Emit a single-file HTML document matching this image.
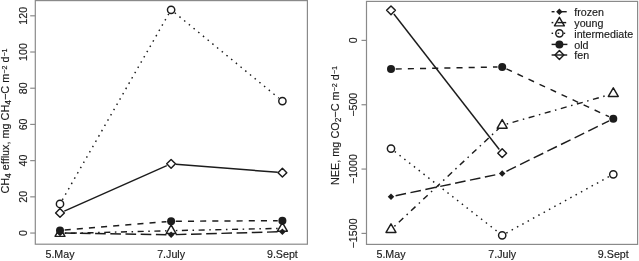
<!DOCTYPE html>
<html><head><meta charset="utf-8"><style>
html,body{margin:0;padding:0;background:#fff;}
body{width:639px;height:261px;overflow:hidden;}
svg{display:block;will-change:transform;}
text{font-family:"Liberation Sans",sans-serif;font-size:10.7px;fill:#1a1a1a;stroke:#1a1a1a;stroke-width:0.15px;}
</style></head><body>
<svg width="639" height="261" viewBox="0 0 639 261">
<rect width="639" height="261" fill="#fff"/>
<rect x="35.3" y="0.6" width="272.1" height="243.6" fill="none" stroke="#8a8a8a" stroke-width="1.2"/>
<rect x="366.5" y="1.4" width="271.1" height="243.0" fill="none" stroke="#8a8a8a" stroke-width="1.2"/>
<path d="M30.2 233.05H35.3" stroke="#8a8a8a" stroke-width="1.2"/>
<path d="M30.2 196.84H35.3" stroke="#8a8a8a" stroke-width="1.2"/>
<path d="M30.2 160.63H35.3" stroke="#8a8a8a" stroke-width="1.2"/>
<path d="M30.2 124.43H35.3" stroke="#8a8a8a" stroke-width="1.2"/>
<path d="M30.2 88.22H35.3" stroke="#8a8a8a" stroke-width="1.2"/>
<path d="M30.2 52.01H35.3" stroke="#8a8a8a" stroke-width="1.2"/>
<path d="M30.2 15.80H35.3" stroke="#8a8a8a" stroke-width="1.2"/>
<path d="M361.5 40.40H366.4" stroke="#8a8a8a" stroke-width="1.2"/>
<path d="M361.5 104.74H366.4" stroke="#8a8a8a" stroke-width="1.2"/>
<path d="M361.5 169.07H366.4" stroke="#8a8a8a" stroke-width="1.2"/>
<path d="M361.5 233.41H366.4" stroke="#8a8a8a" stroke-width="1.2"/>
<path d="M64.70 233.07L166.40 234.68" fill="none" stroke="#1c1c1c" stroke-width="1.45" stroke-dasharray="10.64 4.56"/>
<path d="M175.80 234.62L277.70 231.83" fill="none" stroke="#1c1c1c" stroke-width="1.45" stroke-dasharray="10.64 4.56"/>
<path d="M56.75 233.00L60.00 229.75L63.25 233.00L60.00 236.25Z" fill="#1c1c1c"/>
<path d="M167.85 234.75L171.10 231.50L174.35 234.75L171.10 238.00Z" fill="#1c1c1c"/>
<path d="M279.15 231.70L282.40 228.45L285.65 231.70L282.40 234.95Z" fill="#1c1c1c"/>
<path d="M64.70 233.38L166.40 230.82" fill="none" stroke="#1c1c1c" stroke-width="1.45" stroke-dasharray="1.52 4.56 6.08 4.56"/>
<path d="M175.80 230.60L277.70 228.40" fill="none" stroke="#1c1c1c" stroke-width="1.45" stroke-dasharray="1.52 4.56 6.08 4.56"/>
<path d="M60.00 227.77L64.96 236.37L55.04 236.37Z" fill="none" stroke="#1c1c1c" stroke-width="1.45" stroke-linejoin="round"/>
<path d="M171.10 224.97L176.06 233.56L166.14 233.56Z" fill="none" stroke="#1c1c1c" stroke-width="1.45" stroke-linejoin="round"/>
<path d="M282.40 222.57L287.36 231.17L277.44 231.17Z" fill="none" stroke="#1c1c1c" stroke-width="1.45" stroke-linejoin="round"/>
<path d="M62.33 199.87L168.77 13.88" fill="none" stroke="#1c1c1c" stroke-width="1.45" stroke-dasharray="1.52 4.56"/>
<path d="M174.73 12.78L278.77 98.12" fill="none" stroke="#1c1c1c" stroke-width="1.45" stroke-dasharray="1.52 4.56"/>
<circle cx="60.00" cy="203.95" r="3.65" fill="none" stroke="#1c1c1c" stroke-width="1.45" stroke-linejoin="round"/>
<circle cx="171.10" cy="9.80" r="3.65" fill="none" stroke="#1c1c1c" stroke-width="1.45" stroke-linejoin="round"/>
<circle cx="282.40" cy="101.10" r="3.65" fill="none" stroke="#1c1c1c" stroke-width="1.45" stroke-linejoin="round"/>
<path d="M64.68 230.02L166.42 221.68" fill="none" stroke="#1c1c1c" stroke-width="1.45" stroke-dasharray="6.08 6.08"/>
<path d="M175.80 221.27L277.70 220.68" fill="none" stroke="#1c1c1c" stroke-width="1.45" stroke-dasharray="6.08 6.08"/>
<circle cx="60.00" cy="230.40" r="4.0" fill="#1c1c1c"/>
<circle cx="171.10" cy="221.30" r="4.0" fill="#1c1c1c"/>
<circle cx="282.40" cy="220.65" r="4.0" fill="#1c1c1c"/>
<path d="M64.30 211.05L166.80 165.70" fill="none" stroke="#1c1c1c" stroke-width="1.45"/>
<path d="M175.79 164.17L277.71 172.33" fill="none" stroke="#1c1c1c" stroke-width="1.45"/>
<path d="M55.60 212.95L60.00 208.55L64.40 212.95L60.00 217.35Z" fill="none" stroke="#1c1c1c" stroke-width="1.45" stroke-linejoin="round"/>
<path d="M166.70 163.80L171.10 159.40L175.50 163.80L171.10 168.20Z" fill="none" stroke="#1c1c1c" stroke-width="1.45" stroke-linejoin="round"/>
<path d="M278.00 172.70L282.40 168.30L286.80 172.70L282.40 177.10Z" fill="none" stroke="#1c1c1c" stroke-width="1.45" stroke-linejoin="round"/>
<path d="M395.60 195.74L497.60 174.36" fill="none" stroke="#1c1c1c" stroke-width="1.45" stroke-dasharray="10.64 4.56"/>
<path d="M506.42 171.33L609.08 120.87" fill="none" stroke="#1c1c1c" stroke-width="1.45" stroke-dasharray="10.64 4.56"/>
<path d="M387.75 196.70L391.00 193.45L394.25 196.70L391.00 199.95Z" fill="#1c1c1c"/>
<path d="M498.95 173.40L502.20 170.15L505.45 173.40L502.20 176.65Z" fill="#1c1c1c"/>
<path d="M610.05 118.80L613.30 115.55L616.55 118.80L613.30 122.05Z" fill="#1c1c1c"/>
<path d="M394.43 226.38L498.77 128.52" fill="none" stroke="#1c1c1c" stroke-width="1.45" stroke-dasharray="1.52 4.56 6.08 4.56"/>
<path d="M506.72 124.01L608.78 94.89" fill="none" stroke="#1c1c1c" stroke-width="1.45" stroke-dasharray="1.52 4.56 6.08 4.56"/>
<path d="M391.00 223.87L395.96 232.47L386.04 232.47Z" fill="none" stroke="#1c1c1c" stroke-width="1.45" stroke-linejoin="round"/>
<path d="M502.20 119.57L507.16 128.16L497.24 128.16Z" fill="none" stroke="#1c1c1c" stroke-width="1.45" stroke-linejoin="round"/>
<path d="M613.30 87.87L618.26 96.46L608.34 96.46Z" fill="none" stroke="#1c1c1c" stroke-width="1.45" stroke-linejoin="round"/>
<path d="M394.71 151.49L498.49 232.41" fill="none" stroke="#1c1c1c" stroke-width="1.45" stroke-dasharray="1.52 4.56"/>
<path d="M506.32 233.04L609.18 176.56" fill="none" stroke="#1c1c1c" stroke-width="1.45" stroke-dasharray="1.52 4.56"/>
<circle cx="391.00" cy="148.60" r="3.65" fill="none" stroke="#1c1c1c" stroke-width="1.45" stroke-linejoin="round"/>
<circle cx="502.20" cy="235.30" r="3.65" fill="none" stroke="#1c1c1c" stroke-width="1.45" stroke-linejoin="round"/>
<circle cx="613.30" cy="174.30" r="3.65" fill="none" stroke="#1c1c1c" stroke-width="1.45" stroke-linejoin="round"/>
<path d="M395.70 69.01L497.50 66.99" fill="none" stroke="#1c1c1c" stroke-width="1.45" stroke-dasharray="6.08 6.08"/>
<path d="M506.46 68.89L609.04 116.71" fill="none" stroke="#1c1c1c" stroke-width="1.45" stroke-dasharray="6.08 6.08"/>
<circle cx="391.00" cy="69.10" r="4.0" fill="#1c1c1c"/>
<circle cx="502.20" cy="66.90" r="4.0" fill="#1c1c1c"/>
<circle cx="613.30" cy="118.70" r="4.0" fill="#1c1c1c"/>
<path d="M393.89 14.01L499.31 149.49" fill="none" stroke="#1c1c1c" stroke-width="1.45"/>
<path d="M386.60 10.30L391.00 5.90L395.40 10.30L391.00 14.70Z" fill="none" stroke="#1c1c1c" stroke-width="1.45" stroke-linejoin="round"/>
<path d="M497.80 153.20L502.20 148.80L506.60 153.20L502.20 157.60Z" fill="none" stroke="#1c1c1c" stroke-width="1.45" stroke-linejoin="round"/>
<path d="M551.60 11.70H554.50" stroke="#1c1c1c" stroke-width="1.45"/>
<path d="M557.70 11.70H566.70" stroke="#1c1c1c" stroke-width="1.45"/>
<path d="M556.15 11.70L559.40 8.45L562.65 11.70L559.40 14.95Z" fill="#1c1c1c"/>
<path d="M551.60 22.60H553.30" stroke="#1c1c1c" stroke-width="1.45"/>
<path d="M557.40 22.60H566.20" stroke="#1c1c1c" stroke-width="1.45"/>
<path d="M559.40 17.27L564.36 25.87L554.44 25.87Z" fill="none" stroke="#1c1c1c" stroke-width="1.45" stroke-linejoin="round"/>
<path d="M551.60 33.30H553.10" stroke="#1c1c1c" stroke-width="1.45"/>
<path d="M557.70 33.30H559.20" stroke="#1c1c1c" stroke-width="1.45"/>
<path d="M563.70 33.30H565.20" stroke="#1c1c1c" stroke-width="1.45"/>
<circle cx="559.40" cy="33.30" r="3.65" fill="none" stroke="#1c1c1c" stroke-width="1.45" stroke-linejoin="round"/>
<path d="M551.60 44.40H567.40" stroke="#1c1c1c" stroke-width="1.45"/>
<circle cx="559.40" cy="44.40" r="4.0" fill="#1c1c1c"/>
<path d="M551.60 55.00H567.20" stroke="#1c1c1c" stroke-width="1.45"/>
<path d="M555.00 55.00L559.40 50.60L563.80 55.00L559.40 59.40Z" fill="none" stroke="#1c1c1c" stroke-width="1.45" stroke-linejoin="round"/>
<text transform="translate(27.2 233.05) rotate(-90)" text-anchor="middle">0</text>
<text transform="translate(27.2 196.84) rotate(-90)" text-anchor="middle">20</text>
<text transform="translate(27.2 160.63) rotate(-90)" text-anchor="middle">40</text>
<text transform="translate(27.2 124.43) rotate(-90)" text-anchor="middle">60</text>
<text transform="translate(27.2 88.22) rotate(-90)" text-anchor="middle">80</text>
<text transform="translate(27.2 52.01) rotate(-90)" text-anchor="middle">100</text>
<text transform="translate(27.2 15.80) rotate(-90)" text-anchor="middle">120</text>
<text transform="translate(356.6 40.40) rotate(-90)" text-anchor="middle">0</text>
<text transform="translate(356.6 104.74) rotate(-90)" text-anchor="middle">−500</text>
<text transform="translate(356.6 169.07) rotate(-90)" text-anchor="middle">−1000</text>
<text transform="translate(356.6 233.41) rotate(-90)" text-anchor="middle">−1500</text>
<text x="60.00" y="257.6" text-anchor="middle">5.May</text>
<text x="171.10" y="257.6" text-anchor="middle">7.July</text>
<text x="282.40" y="257.6" text-anchor="middle">9.Sept</text>
<text x="391.00" y="257.6" text-anchor="middle">5.May</text>
<text x="502.20" y="257.6" text-anchor="middle">7.July</text>
<text x="613.30" y="257.6" text-anchor="middle">9.Sept</text>
<text transform="translate(9.0 193.6) rotate(-90)" style="font-size:10.85px"><tspan dy="-0.00">CH</tspan><tspan font-size="8.46" dy="1.60">4</tspan><tspan dy="-1.60"> efflux, mg CH</tspan><tspan font-size="8.46" dy="1.60">4</tspan><tspan dy="-1.60">−C m</tspan><tspan font-size="7.16" dy="-2.50">−2</tspan><tspan dy="2.50"> d</tspan><tspan font-size="7.16" dy="-2.50">−1</tspan></text>
<text transform="translate(339.2 185.0) rotate(-90)" style="font-size:10.85px"><tspan dy="-0.00">NEE, mg CO</tspan><tspan font-size="8.46" dy="1.60">2</tspan><tspan dy="-1.60">−C m</tspan><tspan font-size="7.16" dy="-2.50">−2</tspan><tspan dy="2.50"> d</tspan><tspan font-size="7.16" dy="-2.50">−1</tspan></text>
<text x="574.3" y="16.10">frozen</text>
<text x="574.3" y="27.00">young</text>
<text x="574.3" y="37.70">intermediate</text>
<text x="574.3" y="48.80">old</text>
<text x="574.3" y="59.40">fen</text>
</svg>
</body></html>
